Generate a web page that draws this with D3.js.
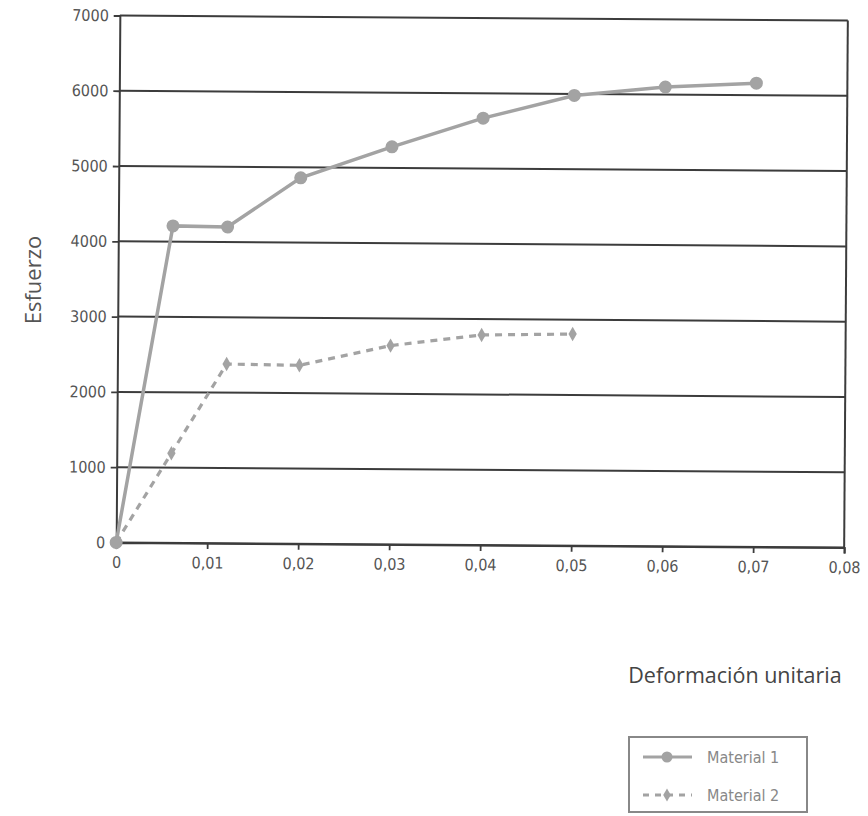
<!DOCTYPE html>
<html><head><meta charset="utf-8">
<script src="https://cdn.jsdelivr.net/npm/d3@7"></script>
<style>
html,body{margin:0;padding:0;background:#fff;}
svg{display:block;}
</style></head>
<body>
<svg id="c" width="868" height="816"></svg>
<script>
// ---- data ----
const xTicks = [0, 0.01, 0.02, 0.03, 0.04, 0.05, 0.06, 0.07, 0.08];
const yTicks = [0, 1000, 2000, 3000, 4000, 5000, 6000, 7000];
const material1X = [0, 0.006, 0.012, 0.02, 0.03, 0.04, 0.05, 0.06, 0.07];
const material1Y = [0, 4210, 4200, 4860, 5280, 5670, 5980, 6100, 6160];
const material2X = [0, 0.006, 0.012, 0.02, 0.03, 0.04, 0.05];
const material2Y = [0, 1190, 2380, 2370, 2640, 2790, 2810];
const seriesNames = ["Material 1", "Material 2"];
const xTitle = "Deformación unitaria";
const yTitle = "Esfuerzo";

// ---- layout ----
const svg = d3.select("#c");
const L = 118, R = 846, T = 18, B = 545;
const x = d3.scaleLinear().domain([0, 0.08]).range([L, R]);
const y = d3.scaleLinear().domain([0, 7000]).range([B, T]);
const fmt = d => d === 0 ? "0" : d3.format(".2f")(d).replace(".", ",");
const tickFont = "'Liberation Sans Narrow','DejaVu Sans Condensed',sans-serif";
const gray = "#a3a3a3";
const dark = "#3c3c3c";

const g = svg.append("g")
  .attr("transform", `rotate(0.4 ${(L+R)/2} ${(T+B)/2})`);

// gridlines
g.append("g").selectAll("line").data(yTicks).join("line")
  .attr("x1", L).attr("x2", R)
  .attr("y1", d => y(d)).attr("y2", d => y(d))
  .attr("stroke", dark).attr("stroke-width", 2);
// right border
g.append("line").attr("x1", R).attr("x2", R).attr("y1", T).attr("y2", B)
  .attr("stroke", dark).attr("stroke-width", 2);

// axes
const yAxis = g.append("g").attr("transform", `translate(${L},0)`)
  .call(d3.axisLeft(y).tickValues(yTicks).tickFormat(d => d).tickSize(6).tickPadding(5));
const xAxis = g.append("g").attr("transform", `translate(0,${B})`)
  .call(d3.axisBottom(x).tickValues(xTicks).tickFormat(fmt).tickSize(6).tickPadding(8));
[yAxis, xAxis].forEach(a => {
  a.select(".domain").attr("stroke", dark).attr("stroke-width", 2);
  a.selectAll(".tick line").attr("stroke", dark).attr("stroke-width", 1.8);
  a.selectAll(".tick text").attr("fill", "#555").attr("font-size", 16)
    .attr("font-family", tickFont);
});

// series
const d1 = material1X.map((v, i) => [v, material1Y[i]]);
const d2 = material2X.map((v, i) => [v, material2Y[i]]);
const line = d3.line().x(d => x(d[0])).y(d => y(d[1]));

g.append("path").datum(d2).attr("d", line).attr("fill", "none")
  .attr("stroke", gray).attr("stroke-width", 3.2).attr("stroke-dasharray", "7,6");
g.append("g").selectAll("path").data(d2).join("path")
  .attr("d", d3.symbol(d3.symbolDiamond, 60))
  .attr("transform", d => `translate(${x(d[0])},${y(d[1])})`)
  .attr("fill", gray);

g.append("path").datum(d1).attr("d", line).attr("fill", "none")
  .attr("stroke", gray).attr("stroke-width", 3.5);
g.append("g").selectAll("circle").data(d1).join("circle")
  .attr("cx", d => x(d[0])).attr("cy", d => y(d[1])).attr("r", 6.5)
  .attr("fill", gray);

// axis titles
svg.append("text").attr("transform", "translate(41,280) rotate(-90)")
  .attr("text-anchor", "middle").attr("fill", "#555")
  .attr("font-family", "'Open Sans',sans-serif").attr("font-size", 22)
  .text(yTitle);
svg.append("text").attr("x", 735).attr("y", 683)
  .attr("text-anchor", "middle").attr("fill", "#444")
  .attr("font-family", "'Open Sans',sans-serif").attr("font-size", 21.5)
  .text(xTitle);

// legend
const lg = svg.append("g");
lg.append("rect").attr("x", 629).attr("y", 737).attr("width", 178).attr("height", 75)
  .attr("fill", "#fff").attr("stroke", "#888").attr("stroke-width", 2);
const rows = [757, 795];
seriesNames.forEach((n, i) => {
  const ry = rows[i];
  lg.append("line").attr("x1", 643).attr("x2", 692).attr("y1", ry).attr("y2", ry)
    .attr("stroke", gray).attr("stroke-width", 3)
    .attr("stroke-dasharray", i === 1 ? "6,6" : null);
  if (i === 0) lg.append("circle").attr("cx", 667).attr("cy", ry).attr("r", 5.5).attr("fill", gray);
  else lg.append("path").attr("d", d3.symbol(d3.symbolDiamond, 50))
    .attr("transform", `translate(667,${ry})`).attr("fill", gray);
  lg.append("text").attr("x", 707).attr("y", ry + 6).attr("fill", "#888")
    .attr("font-family", tickFont).attr("font-size", 16).text(n);
});
</script>
</body></html>
